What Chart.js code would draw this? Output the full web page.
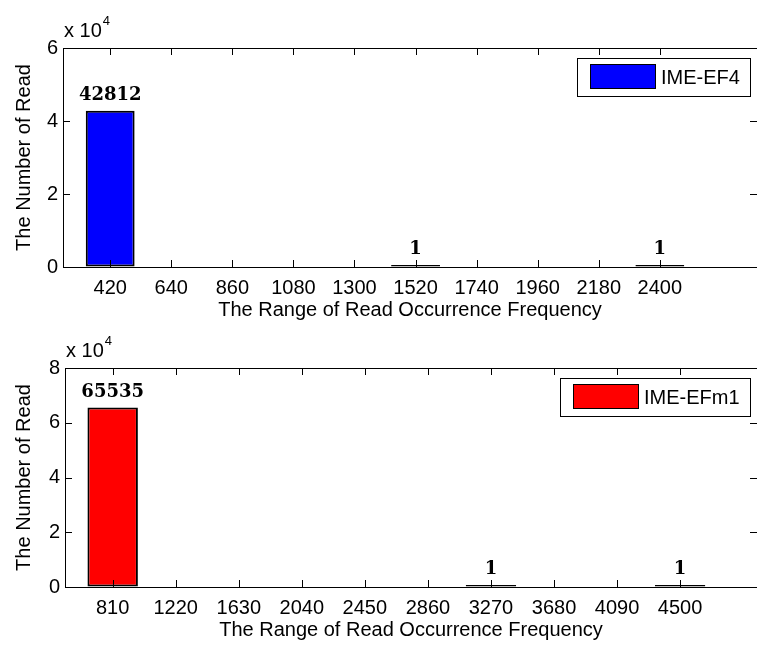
<!DOCTYPE html>
<html>
<head>
<meta charset="utf-8">
<title>Read Occurrence Frequency</title>
<script src="https://cdn.jsdelivr.net/npm/chart.js@4.4.0/dist/chart.umd.min.js"></script>
<style>
    body { margin: 0; background: #fff; }
    canvas { display: block; }
</style>
</head>
<body>
<canvas id="chart-ef4" width="757" height="320"></canvas>
<canvas id="chart-efm1" width="757" height="325"></canvas>
<script>
// data
const binsEF4 = [420, 640, 860, 1080, 1300, 1520, 1740, 1960, 2180, 2400];
const countsEF4 = [42812, 0, 0, 0, 0, 1, 0, 0, 0, 1];
const binsEFm1 = [810, 1220, 1630, 2040, 2450, 2860, 3270, 3680, 4090, 4500];
const countsEFm1 = [65535, 0, 0, 0, 0, 0, 1, 0, 0, 1];
const yTicksEF4 = [0, 20000, 40000, 60000];
const yTicksEFm1 = [0, 20000, 40000, 60000, 80000];

const SANS = '"Liberation Sans", Arial, sans-serif';
Chart.defaults.font.family = SANS;
Chart.defaults.font.size = 20;
Chart.defaults.color = '#000';

// box, inward ticks, legend, exponent and value labels in the matlab look
const matlabAxes = {
    id: 'matlabAxes',
    afterDatasetsDraw(chart) {
        const { ctx } = chart;
        const ds = chart.data.datasets[0];
        const meta = chart.getDatasetMeta(0);
        ctx.save();
        ctx.font = 'bold 18px "DejaVu Serif", serif';
        ctx.fillStyle = '#000';
        ctx.textAlign = 'center';
        ctx.textBaseline = 'alphabetic';
        meta.data.forEach((bar, i) => {
            const v = ds.data[i].y;
            if (v === null) return;
            ctx.fillText(String(v), bar.x, bar.y - 11);
        });
        ctx.restore();
    },
    afterDraw(chart) {
        const { ctx, chartArea: a, scales: { x, y } } = chart;
        const ds = chart.data.datasets[0];
        ctx.save();
        ctx.strokeStyle = '#000';
        ctx.lineWidth = 1;
        ctx.strokeRect(a.left + 0.5, a.top + 0.5, a.right - a.left, a.bottom - a.top);

        ctx.beginPath();
        x.ticks.forEach(t => {
            const px = Math.round(x.getPixelForValue(t.value)) + 0.5;
            ctx.moveTo(px, a.bottom); ctx.lineTo(px, a.bottom - 7);
            ctx.moveTo(px, a.top); ctx.lineTo(px, a.top + 7);
        });
        y.ticks.forEach(t => {
            const py = Math.round(y.getPixelForValue(t.value)) + 0.5;
            ctx.moveTo(a.left, py); ctx.lineTo(a.left + 7, py);
            ctx.moveTo(a.right, py); ctx.lineTo(a.right - 7, py);
        });
        ctx.stroke();

        // x 10^4 above the y axis
        ctx.fillStyle = '#000';
        ctx.textAlign = 'left';
        ctx.textBaseline = 'alphabetic';
        ctx.font = '20px ' + SANS;
        ctx.fillText('x 10', a.left + 1, a.top - 11);
        const w = ctx.measureText('x 10').width;
        ctx.font = '13px ' + SANS;
        ctx.fillText('4', a.left + 2 + w, a.top - 23);

        // legend box, top right inside the axes
        ctx.font = '20px ' + SANS;
        const tw = ctx.measureText(ds.label).width;
        const boxW = 13 + 65 + 6 + tw + 10;
        const boxH = 38;
        const bx = a.right - 7 - boxW;
        const by = a.top + 10;
        ctx.fillStyle = '#fff';
        ctx.fillRect(bx, by, boxW, boxH);
        ctx.strokeRect(Math.round(bx) + 0.5, by + 0.5, Math.round(boxW), boxH);
        ctx.fillStyle = ds.backgroundColor;
        ctx.fillRect(Math.round(bx) + 13, by + 6, 65, 24);
        ctx.strokeRect(Math.round(bx) + 13.5, by + 6.5, 65, 24);
        ctx.fillStyle = '#000';
        ctx.textBaseline = 'middle';
        ctx.fillText(ds.label, Math.round(bx) + 13 + 65 + 6, by + boxH / 2 + 1);
        ctx.restore();
    }
};

const makeHistogram = (canvasId, bins, counts, label, color, yTicks, xMin, xMax, xAxisHeight) => {
    const ctx = document.getElementById(canvasId).getContext('2d');
    return new Chart(ctx, {
        type: 'bar',
        data: {
            datasets: [{
                label: label,
                // empty bins are left undrawn, non-empty ones get at least a line
                data: bins.map((b, i) => ({ x: b, y: counts[i] === 0 ? null : counts[i] })),
                backgroundColor: color,
                borderColor: '#000',
                borderWidth: 2,
                borderSkipped: false,
                minBarLength: 2,
                barPercentage: 0.8,
                categoryPercentage: 1
            }]
        },
        options: {
            responsive: false,
            animation: false,
            layout: { padding: { top: 48, right: 0, left: 0, bottom: 0 } },
            plugins: {
                legend: { display: false },
                tooltip: { enabled: false }
            },
            scales: {
                x: {
                    type: 'linear',
                    offset: false,
                    min: xMin,
                    max: xMax,
                    afterBuildTicks: (scale) => { scale.ticks = bins.map(v => ({ value: v })); },
                    afterFit: (scale) => { scale.height = xAxisHeight; },
                    grid: { drawOnChartArea: false, drawTicks: false },
                    border: { color: '#000' },
                    ticks: {
                        autoSkip: false,
                        maxRotation: 0,
                        padding: 9,
                        callback: (v) => String(v)
                    },
                    title: {
                        display: true,
                        text: 'The Range of Read Occurrence Frequency',
                        font: { size: 20, lineHeight: 1 },
                        padding: { top: 0, bottom: xAxisHeight - 53 }
                    }
                },
                y: {
                    min: 0,
                    max: yTicks[yTicks.length - 1],
                    afterBuildTicks: (scale) => { scale.ticks = yTicks.map(v => ({ value: v })); },
                    afterFit: (scale) => { scale.width = chartLeft[canvasId]; },
                    grid: { drawOnChartArea: false, drawTicks: false },
                    border: { color: '#000' },
                    ticks: {
                        padding: 5,
                        callback: (v) => String(v / 10000)
                    },
                    title: {
                        display: true,
                        text: 'The Number of Read',
                        font: { size: 20, lineHeight: 1.2 },
                        padding: { top: 12, bottom: 0 }
                    }
                }
            }
        },
        plugins: [matlabAxes]
    });
};

const chartLeft = { 'chart-ef4': 63, 'chart-efm1': 65 };

makeHistogram('chart-ef4', binsEF4, countsEF4, 'IME-EF4', '#0000ff', yTicksEF4, 250, 2750, 53);
makeHistogram('chart-efm1', binsEFm1, countsEFm1, 'IME-EFm1', '#ff0000', yTicksEFm1, 500, 5000, 58);
</script>
</body>
</html>
